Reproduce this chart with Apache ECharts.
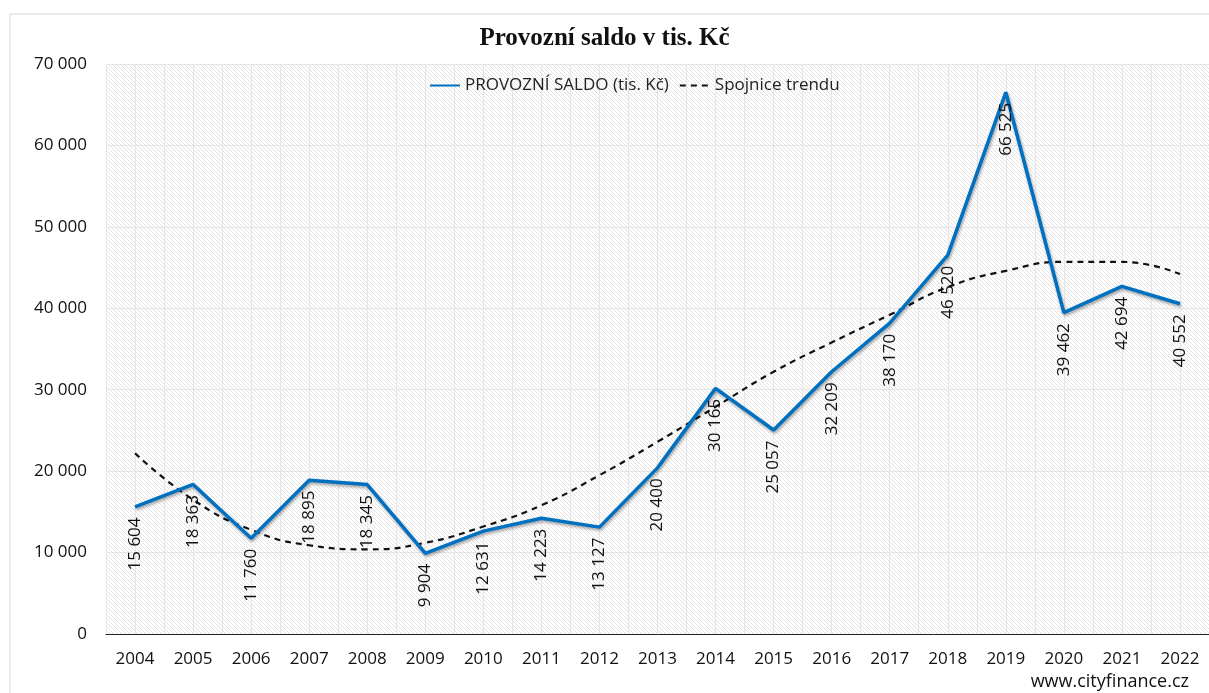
<!DOCTYPE html>
<html>
	<head>
		<meta charset="utf-8">
		<title>Provozní saldo</title>
		<script src="https://cdn.jsdelivr.net/npm/echarts@6/dist/echarts.min.js"></script>
	</head>
	<body style="margin:0;padding:0;background:#fff">
		<div id="chart" style="width:1209px;height:693px;"></div>
	</body>
	<script type="text/javascript">
var years = ['2004','2005','2006','2007','2008','2009','2010','2011','2012','2013','2014','2015','2016','2017','2018','2019','2020','2021','2022'];
var saldo = [15604, 18363, 11760, 18895, 18345, 9904, 12631, 14223, 13127, 20400, 30165, 25057, 32209, 38170, 46520, 66525, 39462, 42694, 40552];
// trend line
var trend = [22200, 16500, 12800, 10900, 10400, 11200, 13200, 15800, 19500, 23600, 27900, 32200, 35800, 39200, 42600, 44600, 45700, 45700, 44200];
var halfTicks = [];
for (var i = 0; i < years.length * 2; i++) halfTicks.push('');

// hatched plot background
var pat = document.createElement('canvas');
pat.width = 4; pat.height = 4;
var c = pat.getContext('2d');
c.fillStyle = '#ffffff';
c.fillRect(0, 0, 4, 4);
c.strokeStyle = '#e3e3e3';
c.lineWidth = 1;
c.beginPath();
c.moveTo(-1, -1); c.lineTo(5, 5);
c.moveTo(-1, 3); c.lineTo(1, 5);
c.moveTo(3, -1); c.lineTo(5, 1);
c.stroke();

var font = '"Open Sans", sans-serif';
var myChart = echarts.init(document.getElementById('chart'));

function fmt(v) {
    return String(v).replace(/\B(?=(\d{3})+(?!\d))/g, ' ');
}

var option = {
    backgroundColor: '#fff',
    animation: false,
    title: {
        text: 'Provozní saldo v tis. Kč',
        left: 'center',
        top: 21,
        textStyle: {
            fontFamily: '"Liberation Serif", serif',
            fontWeight: 'bold',
            fontSize: 25,
            color: '#111'
        }
    },
    legend: {
        top: 72,
        left: 424,
        itemWidth: 30,
        itemHeight: 10,
        itemGap: 10,
        itemStyle: { opacity: 0 },
        textStyle: { fontFamily: font, fontSize: 17, color: '#222' },
        data: ['PROVOZNÍ SALDO (tis. Kč)', 'Spojnice trendu']
    },
    graphic: [{
        type: 'rect',
        shape: { x: 10, y: 14, width: 1260, height: 720 },
        style: { fill: 'none', stroke: '#d9d9d9', lineWidth: 1 },
        silent: true,
        z: -1
    }, {
        type: 'text',
        right: 20,
        bottom: 2,
        style: {
            text: 'www.cityfinance.cz',
            font: '18px "Open Sans", sans-serif',
            fill: '#111'
        }
    }],
    grid: {
        left: 106,
        top: 64,
        width: 1113,
        height: 570,
        show: true,
        borderWidth: 0,
        backgroundColor: { image: pat, repeat: 'repeat' }
    },
    xAxis: [{
        type: 'category',
        data: years,
        boundaryGap: true,
        axisLine: { lineStyle: { color: '#222', width: 1 } },
        axisTick: { show: false },
        axisLabel: { fontFamily: font, fontSize: 17, color: '#111', margin: 17 },
        splitLine: { show: false }
    }, {
        type: 'category',
        data: halfTicks,
        position: 'bottom',
        boundaryGap: true,
        axisLine: { show: false },
        axisTick: { show: false },
        axisLabel: { show: false },
        splitLine: { show: true, interval: 0, lineStyle: { color: '#e6e6e6', width: 1 } }
    }],
    yAxis: {
        type: 'value',
        min: 0,
        max: 70000,
        interval: 10000,
        axisLine: { show: false },
        axisTick: { show: false },
        axisLabel: {
            fontFamily: font, fontSize: 17, color: '#111', margin: 19,
            formatter: function (v) { return fmt(v); }
        },
        splitLine: { lineStyle: { color: '#e6e6e6', width: 1 } }
    },
    series: [{
        name: 'PROVOZNÍ SALDO (tis. Kč)',
        type: 'line',
        data: saldo,
        symbol: 'circle',
        symbolSize: 1,
        showSymbol: true,
        z: 3,
        lineStyle: {
            color: '#0070c0', width: 3.5,
            shadowColor: 'rgba(0,0,0,0.35)', shadowBlur: 3, shadowOffsetX: 1, shadowOffsetY: 2
        },
        itemStyle: { color: 'rgba(0,112,192,0)' },
        label: {
            show: true,
            opacity: 1,
            position: 'bottom',
            distance: 10,
            rotate: 90,
            align: 'right',
            verticalAlign: 'middle',
            fontFamily: font,
            fontSize: 17,
            color: '#111',
            formatter: function (p) { return fmt(p.value); }
        }
    }, {
        name: 'Spojnice trendu',
        type: 'line',
        data: trend,
        smooth: true,
        symbol: 'none',
        z: 2,
        lineStyle: { color: '#111', width: 2.2, type: [6, 5] },
        itemStyle: { color: '#111' }
    }]
};
myChart.setOption(option);
	</script>
</html>
